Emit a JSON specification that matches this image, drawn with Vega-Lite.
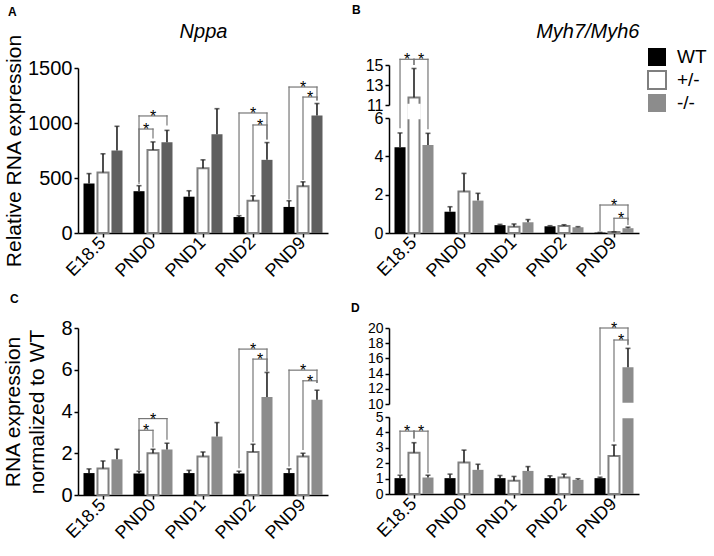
{
  "$schema": "https://vega.github.io/schema/vega-lite/v6.json",
  "padding": {"left": 2, "top": 4, "right": 0, "bottom": 0},
  "datasets": {
    "bars": [
      {"panel": "A", "time": "E18.5", "geno": "WT", "value": 450, "err": 540},
      {"panel": "A", "time": "E18.5", "geno": "+/-", "value": 550, "err": 720},
      {"panel": "A", "time": "E18.5", "geno": "-/-", "value": 750, "err": 970},
      {"panel": "A", "time": "PND0", "geno": "WT", "value": 380, "err": 430},
      {"panel": "A", "time": "PND0", "geno": "+/-", "value": 755, "err": 828},
      {"panel": "A", "time": "PND0", "geno": "-/-", "value": 825, "err": 933},
      {"panel": "A", "time": "PND1", "geno": "WT", "value": 330, "err": 384},
      {"panel": "A", "time": "PND1", "geno": "+/-", "value": 589, "err": 665},
      {"panel": "A", "time": "PND1", "geno": "-/-", "value": 897, "err": 1130},
      {"panel": "A", "time": "PND2", "geno": "WT", "value": 145, "err": 157},
      {"panel": "A", "time": "PND2", "geno": "+/-", "value": 293, "err": 338},
      {"panel": "A", "time": "PND2", "geno": "-/-", "value": 665, "err": 822},
      {"panel": "A", "time": "PND9", "geno": "WT", "value": 237, "err": 293},
      {"panel": "A", "time": "PND9", "geno": "+/-", "value": 425, "err": 465},
      {"panel": "A", "time": "PND9", "geno": "-/-", "value": 1069, "err": 1177},
      {"panel": "B", "time": "E18.5", "geno": "WT", "value": 4.47, "err": 5.22},
      {"panel": "B", "time": "E18.5", "geno": "+/-", "value": 11.75, "err": 14.65},
      {"panel": "B", "time": "E18.5", "geno": "-/-", "value": 4.59, "err": 5.2},
      {"panel": "B", "time": "PND0", "geno": "WT", "value": 1.11, "err": 1.37},
      {"panel": "B", "time": "PND0", "geno": "+/-", "value": 2.17, "err": 3.11},
      {"panel": "B", "time": "PND0", "geno": "-/-", "value": 1.69, "err": 2.07},
      {"panel": "B", "time": "PND1", "geno": "WT", "value": 0.41, "err": 0.45},
      {"panel": "B", "time": "PND1", "geno": "+/-", "value": 0.32, "err": 0.47},
      {"panel": "B", "time": "PND1", "geno": "-/-", "value": 0.56, "err": 0.7},
      {"panel": "B", "time": "PND2", "geno": "WT", "value": 0.35, "err": 0.38},
      {"panel": "B", "time": "PND2", "geno": "+/-", "value": 0.37, "err": 0.43},
      {"panel": "B", "time": "PND2", "geno": "-/-", "value": 0.3, "err": 0.33},
      {"panel": "B", "time": "PND9", "geno": "WT", "value": 0.02, "err": 0.03},
      {"panel": "B", "time": "PND9", "geno": "+/-", "value": 0.05, "err": 0.06},
      {"panel": "B", "time": "PND9", "geno": "-/-", "value": 0.25, "err": 0.3},
      {"panel": "C", "time": "E18.5", "geno": "WT", "value": 1.05, "err": 1.25},
      {"panel": "C", "time": "E18.5", "geno": "+/-", "value": 1.27, "err": 1.63},
      {"panel": "C", "time": "E18.5", "geno": "-/-", "value": 1.71, "err": 2.19},
      {"panel": "C", "time": "PND0", "geno": "WT", "value": 1.03, "err": 1.14},
      {"panel": "C", "time": "PND0", "geno": "+/-", "value": 2.0, "err": 2.19},
      {"panel": "C", "time": "PND0", "geno": "-/-", "value": 2.18, "err": 2.48},
      {"panel": "C", "time": "PND1", "geno": "WT", "value": 1.05, "err": 1.18},
      {"panel": "C", "time": "PND1", "geno": "+/-", "value": 1.84, "err": 2.06},
      {"panel": "C", "time": "PND1", "geno": "-/-", "value": 2.8, "err": 3.47},
      {"panel": "C", "time": "PND2", "geno": "WT", "value": 1.03, "err": 1.14},
      {"panel": "C", "time": "PND2", "geno": "+/-", "value": 2.06, "err": 2.43},
      {"panel": "C", "time": "PND2", "geno": "-/-", "value": 4.7, "err": 5.87},
      {"panel": "C", "time": "PND9", "geno": "WT", "value": 1.05, "err": 1.25},
      {"panel": "C", "time": "PND9", "geno": "+/-", "value": 1.84, "err": 2.0},
      {"panel": "C", "time": "PND9", "geno": "-/-", "value": 4.56, "err": 5.02},
      {"panel": "D", "time": "E18.5", "geno": "WT", "value": 1.03, "err": 1.22},
      {"panel": "D", "time": "E18.5", "geno": "+/-", "value": 2.68, "err": 3.33},
      {"panel": "D", "time": "E18.5", "geno": "-/-", "value": 1.07, "err": 1.22},
      {"panel": "D", "time": "PND0", "geno": "WT", "value": 1.03, "err": 1.29},
      {"panel": "D", "time": "PND0", "geno": "+/-", "value": 2.04, "err": 2.85},
      {"panel": "D", "time": "PND0", "geno": "-/-", "value": 1.57, "err": 1.93},
      {"panel": "D", "time": "PND1", "geno": "WT", "value": 1.03, "err": 1.2},
      {"panel": "D", "time": "PND1", "geno": "+/-", "value": 0.86, "err": 1.14},
      {"panel": "D", "time": "PND1", "geno": "-/-", "value": 1.5, "err": 1.78},
      {"panel": "D", "time": "PND2", "geno": "WT", "value": 1.03, "err": 1.18},
      {"panel": "D", "time": "PND2", "geno": "+/-", "value": 1.07, "err": 1.29},
      {"panel": "D", "time": "PND2", "geno": "-/-", "value": 0.92, "err": 0.99},
      {"panel": "D", "time": "PND9", "geno": "WT", "value": 1.03, "err": 1.09},
      {"panel": "D", "time": "PND9", "geno": "+/-", "value": 2.47, "err": 3.18},
      {"panel": "D", "time": "PND9", "geno": "-/-", "value": 14.82, "err": 17.32}
    ],
    "brackets": [
      {"panel": "A", "time": "PND0", "from": "WT", "to": "-/-", "top": 1064, "yFrom": 450, "yTo": 982},
      {"panel": "A", "time": "PND0", "from": "WT", "to": "+/-", "top": 945, "yFrom": 470, "yTo": 864},
      {"panel": "A", "time": "PND2", "from": "WT", "to": "-/-", "top": 1091, "yFrom": 173, "yTo": 855},
      {"panel": "A", "time": "PND2", "from": "+/-", "to": "-/-", "top": 982, "yFrom": 355, "yTo": 855},
      {"panel": "A", "time": "PND9", "from": "WT", "to": "-/-", "top": 1327, "yFrom": 309, "yTo": 1209},
      {"panel": "A", "time": "PND9", "from": "+/-", "to": "-/-", "top": 1236, "yFrom": 488, "yTo": 1209},
      {"panel": "B", "time": "E18.5", "from": "WT", "to": "+/-", "top": 15.57, "yFrom": 5.5, "yTo": 15.07},
      {"panel": "B", "time": "E18.5", "from": "+/-", "to": "-/-", "top": 15.57, "yFrom": 15.07, "yTo": 5.45},
      {"panel": "B", "time": "PND9", "from": "WT", "to": "-/-", "top": 1.46, "yFrom": 0.12, "yTo": 0.7},
      {"panel": "B", "time": "PND9", "from": "+/-", "to": "-/-", "top": 0.77, "yFrom": 0.12, "yTo": 0.45},
      {"panel": "C", "time": "PND0", "from": "WT", "to": "-/-", "top": 3.66, "yFrom": 1.23, "yTo": 2.67},
      {"panel": "C", "time": "PND0", "from": "WT", "to": "+/-", "top": 3.1, "yFrom": 1.23, "yTo": 2.3},
      {"panel": "C", "time": "PND2", "from": "WT", "to": "-/-", "top": 6.99, "yFrom": 1.31, "yTo": 5.95},
      {"panel": "C", "time": "PND2", "from": "+/-", "to": "-/-", "top": 6.51, "yFrom": 2.56, "yTo": 5.95},
      {"panel": "C", "time": "PND9", "from": "WT", "to": "-/-", "top": 5.98, "yFrom": 1.39, "yTo": 5.39},
      {"panel": "C", "time": "PND9", "from": "+/-", "to": "-/-", "top": 5.47, "yFrom": 2.19, "yTo": 5.39},
      {"panel": "D", "time": "E18.5", "from": "WT", "to": "+/-", "top": 4.08, "yFrom": 1.35, "yTo": 3.65},
      {"panel": "D", "time": "E18.5", "from": "+/-", "to": "-/-", "top": 4.08, "yFrom": 3.65, "yTo": 1.39},
      {"panel": "D", "time": "PND9", "from": "WT", "to": "-/-", "top": 20, "yFrom": 1.29, "yTo": 17.9},
      {"panel": "D", "time": "PND9", "from": "+/-", "to": "-/-", "top": 18.42, "yFrom": 3.43, "yTo": 17.8}
    ],
    "breaks": [
      {"panel": "B", "time": "E18.5", "geno": "+/-", "lo": 6, "hi": 11},
      {"panel": "D", "time": "PND9", "geno": "-/-", "lo": 5, "hi": 10}
    ]
  },
  "columns": 2,
  "bounds": "flush",
  "spacing": {"row": 95, "column": 61},
  "resolve": {"scale": {"fill": "independent", "stroke": "independent"}},
  "concat": [
    {
      "width": 250, "height": 168,
      "title": {"text": "A", "anchor": "start", "frame": "group", "dx": -70, "fontSize": 12, "fontWeight": "bold", "offset": 2},
      "resolve": {"axis": {"x": "independent"}},
      "layer": [
        {"layer": [
          {"data": {"name": "bars"}, "transform": [{"filter": "datum.panel == 'A'"}],
            "mark": {"type": "bar", "strokeWidth": 2},
            "encoding": {
              "x": {"field": "time", "type": "nominal", "title": null, "scale": {"domain": ["E18.5", "PND0", "PND1", "PND2", "PND9"], "paddingInner": 0.22, "paddingOuter": 0.11}, "axis": {"labelAngle": -45, "labelAlign": "right", "labelBaseline": "middle", "labelFontSize": 18, "labelPadding": 3}},
              "xOffset": {"field": "geno", "type": "nominal", "scale": {"domain": ["WT", "+/-", "-/-"], "paddingInner": 0.21, "paddingOuter": 0}},
              "y": {"field": "value", "type": "quantitative", "scale": {"domain": [0, 1500], "range": [168, 3], "nice": false, "zero": false}, "axis": {"title": "Relative RNA expression", "values": [0, 500, 1000, 1500], "tickCount": 30, "format": "d", "titleFontSize": 21, "labelFontSize": 20, "titlePadding": 3, "labelOverlap": false}},
              "fill": {"field": "geno", "type": "nominal", "scale": {"domain": ["WT", "+/-", "-/-"], "range": ["#000000", "#ffffff", "#5f5f5f"]}, "legend": null},
              "stroke": {"field": "geno", "type": "nominal", "scale": {"domain": ["WT", "+/-", "-/-"], "range": ["transparent", "#808080", "transparent"]}, "legend": null}
            }},
          {"data": {"name": "bars"}, "transform": [{"filter": "datum.panel == 'A'"}],
            "mark": {"type": "rule", "color": "#222222", "strokeWidth": 1.6},
            "encoding": {
              "x": {"field": "time", "type": "nominal", "title": null},
              "xOffset": {"field": "geno", "type": "nominal"},
              "y": {"field": "value", "type": "quantitative"},
              "y2": {"field": "err"}
            }},
          {"data": {"name": "brackets"}, "transform": [{"filter": "datum.panel == 'A'"}],
            "mark": {"type": "rule", "color": "#777777", "strokeWidth": 1.2, "strokeCap": "square"},
            "encoding": {
              "x": {"field": "time", "type": "nominal", "title": null},
              "xOffset": {"field": "from", "type": "nominal"},
              "y": {"field": "yFrom", "type": "quantitative"},
              "y2": {"field": "top"}
            }},
          {"data": {"name": "brackets"}, "transform": [{"filter": "datum.panel == 'A'"}],
            "mark": {"type": "rule", "color": "#777777", "strokeWidth": 1.2, "strokeCap": "square"},
            "encoding": {
              "x": {"field": "time", "type": "nominal", "title": null},
              "xOffset": {"field": "to", "type": "nominal"},
              "y": {"field": "yTo", "type": "quantitative"},
              "y2": {"field": "top"}
            }},
          {"data": {"name": "brackets"}, "transform": [{"filter": "datum.panel == 'A'"}, {"fold": ["from", "to"], "as": ["end", "g"]}],
            "mark": {"type": "line", "color": "#777777", "strokeWidth": 1.2, "strokeCap": "square"},
            "encoding": {
              "x": {"field": "time", "type": "nominal", "title": null},
              "xOffset": {"field": "g", "type": "nominal"},
              "y": {"field": "top", "type": "quantitative"},
              "detail": [{"field": "time"}, {"field": "from"}, {"field": "to"}]
            }},
          {"data": {"name": "brackets"}, "transform": [{"filter": "datum.panel == 'A' && datum.from == 'WT' && datum.to == '-/-'"}],
            "mark": {"type": "text", "text": "*", "fontSize": 16, "dx": 14, "dy": 6, "baseline": "alphabetic", "color": "#000000"},
            "encoding": {
              "x": {"field": "time", "type": "nominal", "title": null},
              "xOffset": {"field": "from", "type": "nominal"},
              "y": {"field": "top", "type": "quantitative"}
            }},
          {"data": {"name": "brackets"}, "transform": [{"filter": "datum.panel == 'A' && !(datum.from == 'WT' && datum.to == '-/-')"}],
            "mark": {"type": "text", "text": "*", "fontSize": 16, "dx": 7, "dy": 6, "baseline": "alphabetic", "color": "#000000"},
            "encoding": {
              "x": {"field": "time", "type": "nominal", "title": null},
              "xOffset": {"field": "from", "type": "nominal"},
              "y": {"field": "top", "type": "quantitative"}
            }}
        ]},
        {"data": {"name": "bars"}, "transform": [{"filter": "datum.panel == 'A'"}],
          "mark": {"type": "tick", "color": "#222222", "thickness": 1.6, "size": 5, "orient": "horizontal"},
          "encoding": {
            "x": {"field": "time", "type": "nominal", "title": "Nppa", "axis": {"orient": "top", "titleFontSize": 20, "titleFontStyle": "italic", "titleFontWeight": "normal", "titlePadding": 24, "labels": false, "ticks": false, "domain": false}},
            "xOffset": {"field": "geno", "type": "nominal"},
            "y": {"field": "err", "type": "quantitative"}
          }}
      ]
    },
    {
      "width": 250, "height": 168,
      "title": {"text": "B", "anchor": "start", "frame": "group", "dx": -37, "fontSize": 12, "fontWeight": "bold", "offset": 4},
      "resolve": {"axis": {"x": "independent"}},
      "layer": [
        {"layer": [
          {"data": {"name": "bars"}, "transform": [{"filter": "datum.panel == 'B'"}],
            "mark": {"type": "bar", "strokeWidth": 2},
            "encoding": {
              "x": {"field": "time", "type": "nominal", "title": null, "scale": {"domain": ["E18.5", "PND0", "PND1", "PND2", "PND9"], "paddingInner": 0.22, "paddingOuter": 0.11}, "axis": {"labelAngle": -45, "labelAlign": "right", "labelBaseline": "middle", "labelFontSize": 18, "labelPadding": 3}},
              "xOffset": {"field": "geno", "type": "nominal", "scale": {"domain": ["WT", "+/-", "-/-"], "paddingInner": 0.21, "paddingOuter": 0}},
              "y": {"field": "value", "type": "quantitative", "title": null, "scale": {"domain": [0, 6, 11, 15], "range": [168, 53, 40, 0], "nice": false, "zero": false}, "axis": {"values": [0, 2, 4, 6, 11, 13, 15], "tickCount": 30, "format": "d", "labelFontSize": 16, "labelOverlap": false, "domainDash": [115, 13, 40]}},
              "fill": {"field": "geno", "type": "nominal", "scale": {"domain": ["WT", "+/-", "-/-"], "range": ["#000000", "#ffffff", "#8c8c8c"]}, "legend": {"title": null, "orient": "none", "legendX": 258, "legendY": -18, "symbolType": "square", "symbolSize": 324, "symbolStrokeWidth": 2, "labelFontSize": 19, "labelOffset": 10, "rowPadding": -7, "padding": 0}},
              "stroke": {"field": "geno", "type": "nominal", "scale": {"domain": ["WT", "+/-", "-/-"], "range": ["transparent", "#7f7f7f", "transparent"]}, "legend": {"title": null, "orient": "none", "legendX": 258, "legendY": -18, "symbolType": "square", "symbolSize": 324, "symbolStrokeWidth": 2, "labelFontSize": 19, "labelOffset": 10, "rowPadding": -7, "padding": 0}}
            }},
          {"data": {"name": "breaks"}, "transform": [{"filter": "datum.panel == 'B'"}],
            "mark": {"type": "bar", "fill": "#ffffff", "stroke": "#ffffff", "strokeWidth": 2.5},
            "encoding": {
              "x": {"field": "time", "type": "nominal", "title": null},
              "xOffset": {"field": "geno", "type": "nominal"},
              "y": {"field": "lo", "type": "quantitative", "title": null},
              "y2": {"field": "hi"}
            }},
          {"data": {"name": "bars"}, "transform": [{"filter": "datum.panel == 'B'"}],
            "mark": {"type": "rule", "color": "#222222", "strokeWidth": 1.6},
            "encoding": {
              "x": {"field": "time", "type": "nominal", "title": null},
              "xOffset": {"field": "geno", "type": "nominal"},
              "y": {"field": "value", "type": "quantitative", "title": null},
              "y2": {"field": "err"}
            }},
          {"data": {"name": "brackets"}, "transform": [{"filter": "datum.panel == 'B'"}],
            "mark": {"type": "rule", "color": "#777777", "strokeWidth": 1.2, "strokeCap": "square"},
            "encoding": {
              "x": {"field": "time", "type": "nominal", "title": null},
              "xOffset": {"field": "from", "type": "nominal"},
              "y": {"field": "yFrom", "type": "quantitative", "title": null},
              "y2": {"field": "top"}
            }},
          {"data": {"name": "brackets"}, "transform": [{"filter": "datum.panel == 'B'"}],
            "mark": {"type": "rule", "color": "#777777", "strokeWidth": 1.2, "strokeCap": "square"},
            "encoding": {
              "x": {"field": "time", "type": "nominal", "title": null},
              "xOffset": {"field": "to", "type": "nominal"},
              "y": {"field": "yTo", "type": "quantitative", "title": null},
              "y2": {"field": "top"}
            }},
          {"data": {"name": "brackets"}, "transform": [{"filter": "datum.panel == 'B'"}, {"fold": ["from", "to"], "as": ["end", "g"]}],
            "mark": {"type": "line", "color": "#777777", "strokeWidth": 1.2, "strokeCap": "square"},
            "encoding": {
              "x": {"field": "time", "type": "nominal", "title": null},
              "xOffset": {"field": "g", "type": "nominal"},
              "y": {"field": "top", "type": "quantitative", "title": null},
              "detail": [{"field": "time"}, {"field": "from"}, {"field": "to"}]
            }},
          {"data": {"name": "brackets"}, "transform": [{"filter": "datum.panel == 'B' && datum.from == 'WT' && datum.to == '-/-'"}],
            "mark": {"type": "text", "text": "*", "fontSize": 16, "dx": 14, "dy": 6, "baseline": "alphabetic", "color": "#000000"},
            "encoding": {
              "x": {"field": "time", "type": "nominal", "title": null},
              "xOffset": {"field": "from", "type": "nominal"},
              "y": {"field": "top", "type": "quantitative", "title": null}
            }},
          {"data": {"name": "brackets"}, "transform": [{"filter": "datum.panel == 'B' && !(datum.from == 'WT' && datum.to == '-/-')"}],
            "mark": {"type": "text", "text": "*", "fontSize": 16, "dx": 7, "dy": 6, "baseline": "alphabetic", "color": "#000000"},
            "encoding": {
              "x": {"field": "time", "type": "nominal", "title": null},
              "xOffset": {"field": "from", "type": "nominal"},
              "y": {"field": "top", "type": "quantitative", "title": null}
            }}
        ]},
        {"data": {"name": "bars"}, "transform": [{"filter": "datum.panel == 'B'"}],
          "mark": {"type": "tick", "color": "#222222", "thickness": 1.6, "size": 5, "orient": "horizontal"},
          "encoding": {
            "x": {"field": "time", "type": "nominal", "title": "Myh7/Myh6", "axis": {"orient": "top", "titleAnchor": "end", "titleFontSize": 20, "titleFontStyle": "italic", "titleFontWeight": "normal", "titlePadding": 24, "labels": false, "ticks": false, "domain": false}},
            "xOffset": {"field": "geno", "type": "nominal"},
            "y": {"field": "err", "type": "quantitative", "title": null}
          }}
      ]
    },
    {
      "width": 250, "height": 167,
      "title": {"text": "C", "anchor": "start", "frame": "group", "dx": -68, "fontSize": 12, "fontWeight": "bold", "offset": 12},
      "layer": [
        {"data": {"name": "bars"}, "transform": [{"filter": "datum.panel == 'C'"}],
          "mark": {"type": "bar", "strokeWidth": 2},
          "encoding": {
            "x": {"field": "time", "type": "nominal", "title": null, "scale": {"domain": ["E18.5", "PND0", "PND1", "PND2", "PND9"], "paddingInner": 0.22, "paddingOuter": 0.11}, "axis": {"labelAngle": -45, "labelAlign": "right", "labelBaseline": "middle", "labelFontSize": 18, "labelPadding": 3}},
            "xOffset": {"field": "geno", "type": "nominal", "scale": {"domain": ["WT", "+/-", "-/-"], "paddingInner": 0.21, "paddingOuter": 0}},
            "y": {"field": "value", "type": "quantitative", "scale": {"domain": [0, 8], "nice": false, "zero": false}, "axis": {"title": ["RNA expression", "normalized to WT"], "values": [0, 2, 4, 6, 8], "tickCount": 30, "format": "d", "titleFontSize": 21, "titleLineHeight": 24, "labelFontSize": 20, "titlePadding": 13, "labelOverlap": false}},
            "fill": {"field": "geno", "type": "nominal", "scale": {"domain": ["WT", "+/-", "-/-"], "range": ["#000000", "#ffffff", "#8c8c8c"]}, "legend": null},
            "stroke": {"field": "geno", "type": "nominal", "scale": {"domain": ["WT", "+/-", "-/-"], "range": ["transparent", "#7f7f7f", "transparent"]}, "legend": null}
          }},
        {"data": {"name": "bars"}, "transform": [{"filter": "datum.panel == 'C'"}],
          "mark": {"type": "rule", "color": "#222222", "strokeWidth": 1.6},
          "encoding": {
            "x": {"field": "time", "type": "nominal", "title": null},
            "xOffset": {"field": "geno", "type": "nominal"},
            "y": {"field": "value", "type": "quantitative"},
            "y2": {"field": "err"}
          }},
        {"data": {"name": "bars"}, "transform": [{"filter": "datum.panel == 'C'"}],
          "mark": {"type": "tick", "color": "#222222", "thickness": 1.6, "size": 5, "orient": "horizontal"},
          "encoding": {
            "x": {"field": "time", "type": "nominal", "title": null},
            "xOffset": {"field": "geno", "type": "nominal"},
            "y": {"field": "err", "type": "quantitative"}
          }},
        {"data": {"name": "brackets"}, "transform": [{"filter": "datum.panel == 'C'"}],
          "mark": {"type": "rule", "color": "#777777", "strokeWidth": 1.2, "strokeCap": "square"},
          "encoding": {
            "x": {"field": "time", "type": "nominal", "title": null},
            "xOffset": {"field": "from", "type": "nominal"},
            "y": {"field": "yFrom", "type": "quantitative"},
            "y2": {"field": "top"}
          }},
        {"data": {"name": "brackets"}, "transform": [{"filter": "datum.panel == 'C'"}],
          "mark": {"type": "rule", "color": "#777777", "strokeWidth": 1.2, "strokeCap": "square"},
          "encoding": {
            "x": {"field": "time", "type": "nominal", "title": null},
            "xOffset": {"field": "to", "type": "nominal"},
            "y": {"field": "yTo", "type": "quantitative"},
            "y2": {"field": "top"}
          }},
        {"data": {"name": "brackets"}, "transform": [{"filter": "datum.panel == 'C'"}, {"fold": ["from", "to"], "as": ["end", "g"]}],
          "mark": {"type": "line", "color": "#777777", "strokeWidth": 1.2, "strokeCap": "square"},
          "encoding": {
            "x": {"field": "time", "type": "nominal", "title": null},
            "xOffset": {"field": "g", "type": "nominal"},
            "y": {"field": "top", "type": "quantitative"},
            "detail": [{"field": "time"}, {"field": "from"}, {"field": "to"}]
          }},
        {"data": {"name": "brackets"}, "transform": [{"filter": "datum.panel == 'C' && datum.from == 'WT' && datum.to == '-/-'"}],
          "mark": {"type": "text", "text": "*", "fontSize": 16, "dx": 14, "dy": 6, "baseline": "alphabetic", "color": "#000000"},
          "encoding": {
            "x": {"field": "time", "type": "nominal", "title": null},
            "xOffset": {"field": "from", "type": "nominal"},
            "y": {"field": "top", "type": "quantitative"}
          }},
        {"data": {"name": "brackets"}, "transform": [{"filter": "datum.panel == 'C' && !(datum.from == 'WT' && datum.to == '-/-')"}],
          "mark": {"type": "text", "text": "*", "fontSize": 16, "dx": 7, "dy": 6, "baseline": "alphabetic", "color": "#000000"},
          "encoding": {
            "x": {"field": "time", "type": "nominal", "title": null},
            "xOffset": {"field": "from", "type": "nominal"},
            "y": {"field": "top", "type": "quantitative"}
          }}
      ]
    },
    {
      "width": 250, "height": 166,
      "title": {"text": "D", "anchor": "start", "frame": "group", "dx": -38, "fontSize": 12, "fontWeight": "bold", "offset": 6},
      "layer": [
        {"data": {"name": "bars"}, "transform": [{"filter": "datum.panel == 'D'"}],
          "mark": {"type": "bar", "strokeWidth": 2},
          "encoding": {
            "x": {"field": "time", "type": "nominal", "title": null, "scale": {"domain": ["E18.5", "PND0", "PND1", "PND2", "PND9"], "paddingInner": 0.22, "paddingOuter": 0.11}, "axis": {"labelAngle": -45, "labelAlign": "right", "labelBaseline": "middle", "labelFontSize": 18, "labelPadding": 3}},
            "xOffset": {"field": "geno", "type": "nominal", "scale": {"domain": ["WT", "+/-", "-/-"], "paddingInner": 0.21, "paddingOuter": 0}},
            "y": {"field": "value", "type": "quantitative", "title": null, "scale": {"domain": [0, 5, 10, 20], "range": [166, 89, 76, 0], "nice": false, "zero": false}, "axis": {"values": [0, 1, 2, 3, 4, 5, 10, 12, 14, 16, 18, 20], "tickCount": 30, "format": "d", "labelFontSize": 14, "labelOverlap": false, "domainDash": [77, 13, 76]}},
            "fill": {"field": "geno", "type": "nominal", "scale": {"domain": ["WT", "+/-", "-/-"], "range": ["#000000", "#ffffff", "#8c8c8c"]}, "legend": null},
            "stroke": {"field": "geno", "type": "nominal", "scale": {"domain": ["WT", "+/-", "-/-"], "range": ["transparent", "#7f7f7f", "transparent"]}, "legend": null}
          }},
        {"data": {"name": "breaks"}, "transform": [{"filter": "datum.panel == 'D'"}],
          "mark": {"type": "bar", "fill": "#ffffff", "stroke": "#ffffff", "strokeWidth": 2.5},
          "encoding": {
            "x": {"field": "time", "type": "nominal", "title": null},
            "xOffset": {"field": "geno", "type": "nominal"},
            "y": {"field": "lo", "type": "quantitative", "title": null},
            "y2": {"field": "hi"}
          }},
        {"data": {"name": "bars"}, "transform": [{"filter": "datum.panel == 'D'"}],
          "mark": {"type": "rule", "color": "#222222", "strokeWidth": 1.6},
          "encoding": {
            "x": {"field": "time", "type": "nominal", "title": null},
            "xOffset": {"field": "geno", "type": "nominal"},
            "y": {"field": "value", "type": "quantitative", "title": null},
            "y2": {"field": "err"}
          }},
        {"data": {"name": "bars"}, "transform": [{"filter": "datum.panel == 'D'"}],
          "mark": {"type": "tick", "color": "#222222", "thickness": 1.6, "size": 5, "orient": "horizontal"},
          "encoding": {
            "x": {"field": "time", "type": "nominal", "title": null},
            "xOffset": {"field": "geno", "type": "nominal"},
            "y": {"field": "err", "type": "quantitative", "title": null}
          }},
        {"data": {"name": "brackets"}, "transform": [{"filter": "datum.panel == 'D'"}],
          "mark": {"type": "rule", "color": "#777777", "strokeWidth": 1.2, "strokeCap": "square"},
          "encoding": {
            "x": {"field": "time", "type": "nominal", "title": null},
            "xOffset": {"field": "from", "type": "nominal"},
            "y": {"field": "yFrom", "type": "quantitative", "title": null},
            "y2": {"field": "top"}
          }},
        {"data": {"name": "brackets"}, "transform": [{"filter": "datum.panel == 'D'"}],
          "mark": {"type": "rule", "color": "#777777", "strokeWidth": 1.2, "strokeCap": "square"},
          "encoding": {
            "x": {"field": "time", "type": "nominal", "title": null},
            "xOffset": {"field": "to", "type": "nominal"},
            "y": {"field": "yTo", "type": "quantitative", "title": null},
            "y2": {"field": "top"}
          }},
        {"data": {"name": "brackets"}, "transform": [{"filter": "datum.panel == 'D'"}, {"fold": ["from", "to"], "as": ["end", "g"]}],
          "mark": {"type": "line", "color": "#777777", "strokeWidth": 1.2, "strokeCap": "square"},
          "encoding": {
            "x": {"field": "time", "type": "nominal", "title": null},
            "xOffset": {"field": "g", "type": "nominal"},
            "y": {"field": "top", "type": "quantitative", "title": null},
            "detail": [{"field": "time"}, {"field": "from"}, {"field": "to"}]
          }},
        {"data": {"name": "brackets"}, "transform": [{"filter": "datum.panel == 'D' && datum.from == 'WT' && datum.to == '-/-'"}],
          "mark": {"type": "text", "text": "*", "fontSize": 16, "dx": 14, "dy": 6, "baseline": "alphabetic", "color": "#000000"},
          "encoding": {
            "x": {"field": "time", "type": "nominal", "title": null},
            "xOffset": {"field": "from", "type": "nominal"},
            "y": {"field": "top", "type": "quantitative", "title": null}
          }},
        {"data": {"name": "brackets"}, "transform": [{"filter": "datum.panel == 'D' && !(datum.from == 'WT' && datum.to == '-/-')"}],
          "mark": {"type": "text", "text": "*", "fontSize": 16, "dx": 7, "dy": 6, "baseline": "alphabetic", "color": "#000000"},
          "encoding": {
            "x": {"field": "time", "type": "nominal", "title": null},
            "xOffset": {"field": "from", "type": "nominal"},
            "y": {"field": "top", "type": "quantitative", "title": null}
          }}
      ]
    }
  ],
  "config": {
    "font": "Liberation Sans",
    "view": {"stroke": null},
    "axis": {"domainColor": "#000000", "domainWidth": 1.5, "tickColor": "#000000", "tickWidth": 1.5, "tickSize": 4, "labelColor": "#000000", "titleColor": "#000000", "grid": false, "titleFontWeight": "normal", "labelPadding": 2, "labelOverlap": false},
    "title": {"color": "#000000"},
    "legend": {"labelColor": "#000000"}
  }
}
